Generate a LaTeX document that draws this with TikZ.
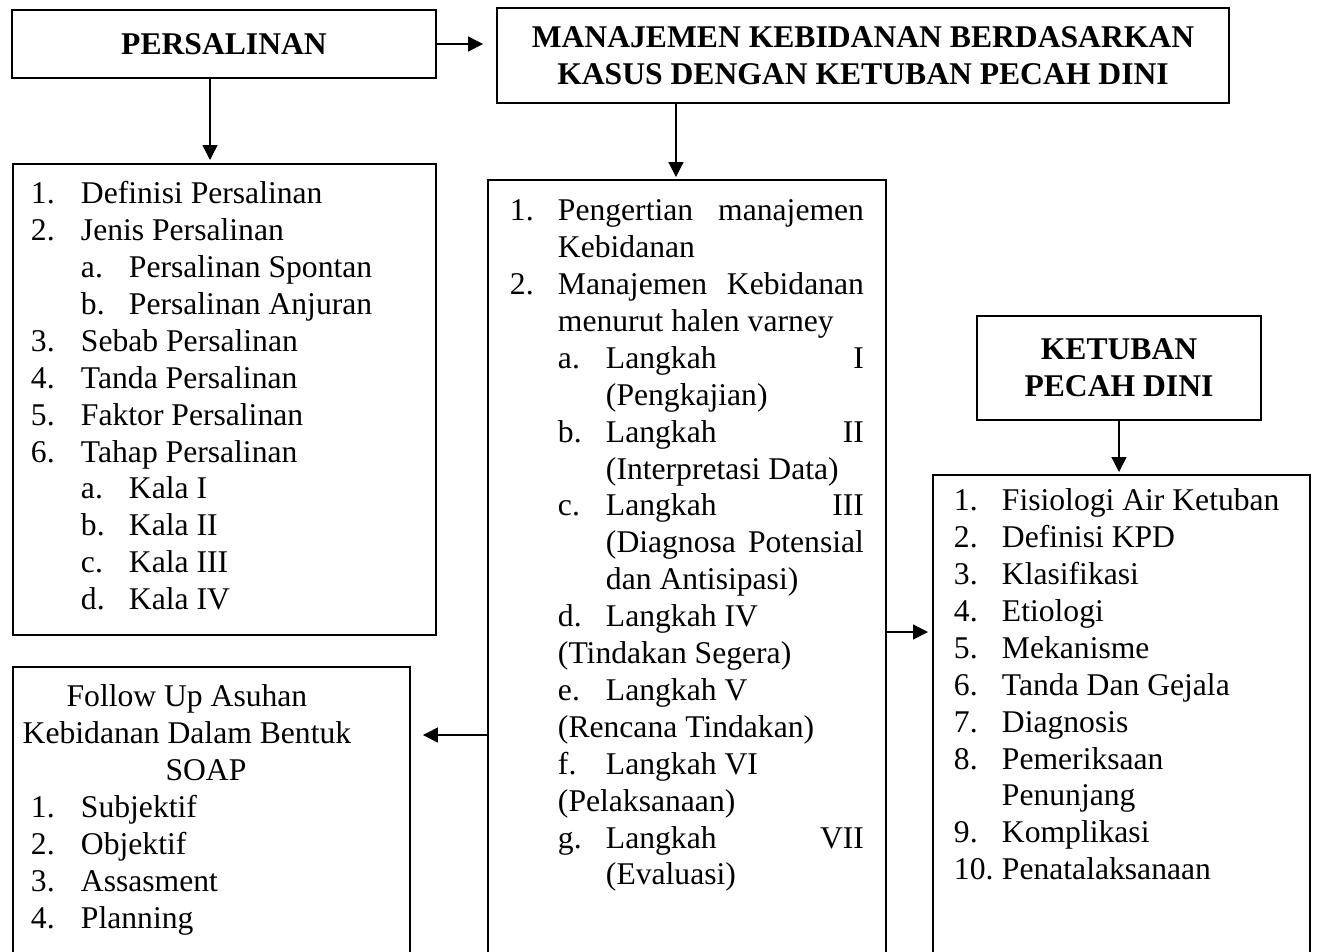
\documentclass[tikz,border=0pt]{standalone}
\usepackage{fontspec}
\setmainfont{Liberation Serif}
\usetikzlibrary{arrows.meta, positioning}

\newlength{\px}
\setlength{\px}{0.02cm}
\newcommand{\itm}[3]{\strut\hspace*{#1\px}\makebox[#2\px][l]{#3}}
\newcommand{\cnt}[1]{\strut\hspace*{#1\px}}

\begin{document}
\begin{tikzpicture}[x=0.02cm, y=-0.02cm,
    every node/.style={font=\fontsize{18}{21}\selectfont},
    head/.style={rectangle, draw, line width=1.1pt, align=center, font=\fontsize{18}{21}\selectfont\bfseries},
    box/.style={rectangle, draw, line width=1.1pt, anchor=north west, inner sep=0pt},
    arr/.style={line width=0.8pt, -{Triangle[length=8.5pt, width=8.5pt]}}]
    \useasboundingbox (0,0) rectangle (1318,951);

    \node[head, minimum width=424\px, minimum height=68\px] (per) at (224,44) {PERSALINAN};
    \node[head, minimum width=732\px, minimum height=95\px] (mkb) at (863,55.5) {MANAJEMEN KEBIDANAN BERDASARKAN\\KASUS DENGAN KETUBAN PECAH DINI};
    \node[head, minimum width=284\px, minimum height=104\px] (kpd) at (1119,368) {KETUBAN\\PECAH DINI};

    \node[box, inner ysep=14\px] (lst1) at (12,163) {\parbox[c][443\px][t]{423\px}{%
        \itm{18}{50}{1.}Definisi Persalinan\\
        \itm{18}{50}{2.}Jenis Persalinan\\
        \itm{68}{48}{a.}Persalinan Spontan\\
        \itm{68}{48}{b.}Persalinan Anjuran\\
        \itm{18}{50}{3.}Sebab Persalinan\\
        \itm{18}{50}{4.}Tanda Persalinan\\
        \itm{18}{50}{5.}Faktor Persalinan\\
        \itm{18}{50}{6.}Tahap Persalinan\\
        \itm{68}{48}{a.}Kala I\\
        \itm{68}{48}{b.}Kala II\\
        \itm{68}{48}{c.}Kala III\\
        \itm{68}{48}{d.}Kala IV}};

    \node[box, inner xsep=22\px, inner ysep=15\px] (mid) at (487,179) {\parbox[c][766\px][t]{354\px}{%
        \itm{0}{48}{1.}Pengertian\hfill manajemen\\
        \cnt{48}Kebidanan\\
        \itm{0}{48}{2.}Manajemen\hfill Kebidanan\\
        \cnt{48}menurut halen varney\\
        \itm{48}{48}{a.}Langkah\hfill I\\
        \cnt{96}(Pengkajian)\\
        \itm{48}{48}{b.}Langkah\hfill II\\
        \cnt{96}(Interpretasi Data)\\
        \itm{48}{48}{c.}Langkah\hfill III\\
        \cnt{96}(Diagnosa\hfill Potensial\\
        \cnt{96}dan Antisipasi)\\
        \itm{48}{48}{d.}Langkah IV\\
        \cnt{48}(Tindakan Segera)\\
        \itm{48}{48}{e.}Langkah V\\
        \cnt{48}(Rencana Tindakan)\\
        \itm{48}{48}{f.}Langkah VI\\
        \cnt{48}(Pelaksanaan)\\
        \itm{48}{48}{g.}Langkah\hfill VII\\
        \cnt{96}(Evaluasi)}};

    \node[box, inner xsep=21\px, inner ysep=10\px] (lst3) at (932,474) {\parbox[c][481\px][t]{335\px}{%
        \itm{0}{48}{1.}Fisiologi Air Ketuban\\
        \itm{0}{48}{2.}Definisi KPD\\
        \itm{0}{48}{3.}Klasifikasi\\
        \itm{0}{48}{4.}Etiologi\\
        \itm{0}{48}{5.}Mekanisme\\
        \itm{0}{48}{6.}Tanda Dan Gejala\\
        \itm{0}{48}{7.}Diagnosis\\
        \itm{0}{48}{8.}Pemeriksaan\\
        \cnt{48}Penunjang\\
        \itm{0}{48}{9.}Komplikasi\\
        \itm{0}{48}{10.}Penatalaksanaan}};

    \node[box, inner ysep=14\px] (fol) at (12,666) {\parbox[c][281\px][t]{397\px}{%
        \strut\makebox[348\px]{Follow Up Asuhan}\\
        \strut\makebox[348\px]{Kebidanan Dalam Bentuk}\\
        \strut\makebox[386\px]{SOAP}\\
        \itm{18}{50}{1.}Subjektif\\
        \itm{18}{50}{2.}Objektif\\
        \itm{18}{50}{3.}Assasment\\
        \itm{18}{50}{4.}Planning}};

    % connectors
    \coordinate (pa) at ([xshift=-14\px]per.south);
    \coordinate (ma) at ([xshift=-11\px]mid.north);
    \coordinate (mr) at (mid.east |- 0,632);
    \coordinate (ml) at (mid.west |- 0,735);
    \draw[arr, shorten >=13\px] (per.east) -- (per.east -| mkb.west);
    \draw[arr, shorten >=3\px] (pa) -- (pa |- lst1.north);
    \draw[arr, shorten >=2\px] (ma |- mkb.south) -- (ma);
    \draw[arr, shorten >=2\px] (kpd.south) -- (kpd.south |- lst3.north);
    \draw[arr, shorten >=4\px] (mr) -- (mr -| lst3.west);
    \draw[arr, shorten >=12\px] (ml) -- (ml -| fol.east);
\end{tikzpicture}
\end{document}
